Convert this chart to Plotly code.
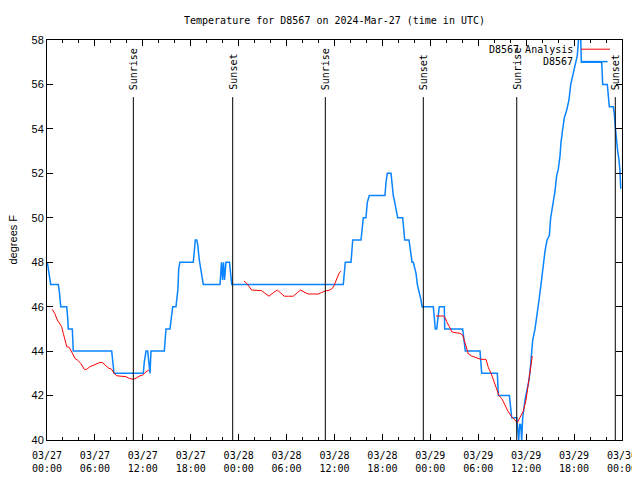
import pandas as pd
import plotly.graph_objects as go

BASE = pd.Timestamp("2024-03-27 00:00")

# D8567 observations: hours since 03/27 00:00 UTC, degrees F
obs_hours = [0.04, 0.29, 0.46, 1.41, 1.54, 1.72, 2.47, 2.59, 2.67, 3.17, 3.29, 8.10, 8.23, 8.39,
             12.06, 12.18, 12.40, 12.61, 12.90, 13.02, 14.69, 14.81, 14.90, 15.40, 15.61, 15.74,
             16.15, 16.28, 16.40, 16.49, 16.65, 18.32, 18.45, 18.57, 18.75, 18.87, 19.07, 19.28,
             19.57, 21.66, 21.85, 21.98, 22.10, 22.23, 22.41, 22.85, 22.98, 23.13, 37.10, 37.23,
             37.35, 38.07, 38.19, 38.28, 39.32, 39.44, 39.61, 39.94, 40.11, 40.36, 42.32, 42.45,
             42.61, 43.08, 43.20, 43.36, 43.49, 43.79, 43.91, 44.54, 44.67, 44.79, 45.33, 45.45,
             45.58, 45.71, 45.87, 46.00, 46.21, 46.37, 46.50, 46.71, 46.83, 46.96, 48.37, 48.50,
             48.62, 48.80, 48.92, 49.12, 49.75, 49.80, 52.05, 52.22, 52.38, 54.22, 54.35, 54.43,
             56.39, 56.52, 57.90, 58.03, 58.19, 58.82, 59.07, 59.19, 59.32, 59.44, 59.57, 59.85,
             60.10, 60.36, 60.54, 60.67, 60.73, 60.82, 61.11, 61.36, 61.61, 61.86, 62.11, 62.36,
             62.61, 62.90, 63.07, 63.27, 63.40, 63.61, 63.82, 64.03, 64.24, 64.36, 64.58, 64.78,
             65.08, 65.36, 65.58, 65.83, 66.12, 66.40, 66.55, 66.65, 66.80, 66.91, 69.46, 69.58,
             70.16, 70.28, 70.41, 70.91, 71.03, 71.16, 71.31, 71.46, 71.62, 71.75, 71.84]
obs_temps = [48.0, 47.3, 47.0, 47.0, 46.7, 46.0, 46.0, 45.5, 45.0, 45.0, 44.0, 44.0, 43.5, 43.0,
             43.0, 43.5, 44.0, 44.0, 43.0, 44.0, 44.0, 44.7, 45.0, 45.0, 45.5, 46.0,
             46.0, 46.3, 46.8, 47.7, 48.0, 48.0, 48.8, 49.0, 49.0, 48.8, 48.1, 47.7,
             47.0, 47.0, 48.0, 47.2, 48.0, 47.2, 48.0, 48.0, 47.4, 47.0, 47.0, 47.6,
             48.0, 48.0, 48.6, 49.0, 49.0, 49.5, 50.0, 50.0, 50.7, 51.0, 51.0, 51.6,
             52.0, 52.0, 51.5, 51.0, 50.8, 50.3, 50.0, 50.0, 49.6, 49.0, 49.0, 48.6,
             48.25, 48.0, 48.0, 47.8, 47.5, 47.0, 46.8, 46.6, 46.3, 46.0, 46.0, 45.5,
             45.0, 45.0, 45.5, 46.0, 46.0, 45.0, 45.0, 44.5, 44.0, 44.0, 43.4, 43.0,
             43.0, 42.0, 42.0, 41.5, 41.0, 41.0, 40.0, 40.7, 40.7, 40.0, 41.0, 41.8,
             42.3, 42.7, 43.3, 43.8, 44.0, 44.5, 45.0, 45.8, 46.3, 47.0, 47.9, 48.5,
             49.0, 49.2, 50.0, 50.4, 50.7, 51.2, 51.9, 52.2, 52.8, 53.4, 54.0, 54.5,
             54.85, 55.3, 56.0, 56.4, 56.9, 57.3, 58.0, 58.5, 58.5, 57.0, 57.0, 56.0,
             56.0, 55.3, 55.0, 55.0, 54.7, 54.1, 53.3, 53.0, 52.6, 52.1, 51.3]

# D8567 Analysis (None = gap)
ana_hours = [0.66, 1.00, 1.29, 1.63, 1.84, 2.04, 2.25, 2.47, 2.79, 3.09, 3.51, 3.79, 4.22, 4.67,
             4.97, 5.38, 5.80, 6.22, 6.64, 6.97, 7.26, 7.68, 8.10, 8.39, 8.73, 9.35, 9.89, 10.31,
             10.81, 11.23, 11.65, 11.98, 12.40, 12.77, 18.0,
             24.67, 25.01, 25.63, 26.26, 26.88, 27.30, 27.80, 28.34, 28.84, 29.18, 29.71, 30.22,
             30.84, 31.34, 31.77, 32.18, 32.72, 33.35, 33.97, 34.40, 34.81, 35.44, 35.85, 36.06,
             36.28, 36.56, 36.81, 42.0,
             48.71, 49.62, 49.84, 50.05, 50.38, 50.68, 51.09, 51.72, 52.05, 52.22, 52.43, 52.76,
             53.18, 53.81, 54.31, 54.97, 55.26, 55.69, 56.10, 56.60, 56.94, 57.35, 57.76, 58.19,
             58.60, 58.89, 59.23, 59.64, 59.98, 60.19, 60.39, 60.61, 60.77]
ana_temps = [45.88, 45.67, 45.4, 45.17, 45.1, 44.8, 44.5, 44.2, 44.17, 43.97, 43.67, 43.6, 43.45, 43.18,
             43.18, 43.3, 43.36, 43.42, 43.49, 43.48, 43.37, 43.24, 43.18, 43.0, 42.89, 42.88, 42.85, 42.77,
             42.73, 42.8, 42.89, 42.92, 43.07, 43.15, None,
             47.15, 47.05, 46.75, 46.72, 46.72, 46.6, 46.47, 46.63, 46.75, 46.64, 46.47, 46.47,
             46.47, 46.63, 46.75, 46.66, 46.57, 46.57, 46.57, 46.64, 46.7, 46.75, 46.87, 47.05,
             47.27, 47.5, 47.6, None,
             45.58, 45.58, 45.52, 45.32, 45.1, 44.87, 44.83, 44.8, 44.72, 44.5, 44.2, 43.87,
             43.78, 43.69, 43.63, 43.63, 43.27, 42.92, 42.47, 41.99, 41.87, 41.57, 41.27, 41.05,
             40.9, 40.78, 41.02, 41.3, 41.8, 42.32, 42.92, 43.45, 43.78]

sun_hours = [10.81, 23.25, 34.85, 47.12, 58.82, 71.16]
sun_labels = ["Sunrise", "Sunset", "Sunrise", "Sunset", "Sunrise", "Sunset"]

tick_hours = list(range(0, 73, 6))
tick_text = ["03/27<br>00:00", "03/27<br>06:00", "03/27<br>12:00", "03/27<br>18:00",
             "03/28<br>00:00", "03/28<br>06:00", "03/28<br>12:00", "03/28<br>18:00",
             "03/29<br>00:00", "03/29<br>06:00", "03/29<br>12:00", "03/29<br>18:00",
             "03/30<br>00:00"]
y_ticks = list(range(40, 59, 2))


def to_time(hours):
    return [None if h is None else BASE + pd.Timedelta(hours=h) for h in hours]


MONO = "DejaVu Sans Mono"
SANS = "Liberation Sans"
BLUE = "#0a84ff"
RED = "#ff0000"

fig = go.Figure()
fig.add_trace(go.Scatter(x=to_time(obs_hours), y=obs_temps, mode="lines",
                         line=dict(color=BLUE, width=1.5), name="D8567", showlegend=False))
fig.add_trace(go.Scatter(x=to_time(ana_hours), y=ana_temps, mode="lines", connectgaps=False,
                         line=dict(color=RED, width=1), name="D8567 Analysis", showlegend=False))

for h, lab in zip(sun_hours, sun_labels):
    t = BASE + pd.Timedelta(hours=h)
    fig.add_shape(type="line", xref="x", yref="y", x0=t, x1=t, y0=40, y1=55.43,
                  line=dict(color="black", width=1))
    fig.add_annotation(x=t, y=55.66, xref="x", yref="y", text=lab, textangle=-90,
                       showarrow=False, xanchor="center", yanchor="bottom",
                       font=dict(family=MONO, size=10, color="black"))

# gnuplot-style legend (text left, sample right)
fig.add_annotation(x=0.918, y=0.977, xref="paper", yref="paper", text="D8567 Analysis",
                   showarrow=False, xanchor="right", yanchor="middle",
                   font=dict(family=MONO, size=10, color="black"))
fig.add_annotation(x=0.918, y=0.946, xref="paper", yref="paper", text="D8567",
                   showarrow=False, xanchor="right", yanchor="middle",
                   font=dict(family=MONO, size=10, color="black"))
fig.add_shape(type="line", xref="paper", yref="paper", x0=0.9287, x1=0.979, y0=0.977, y1=0.977,
              line=dict(color=RED, width=1))
fig.add_shape(type="line", xref="paper", yref="paper", x0=0.9287, x1=0.975, y0=0.946, y1=0.946,
              line=dict(color=BLUE, width=1.5))

fig.add_annotation(x=-0.06, y=0.5, xref="paper", yref="paper", text="degrees F",
                   textangle=-90, showarrow=False, xanchor="center", yanchor="middle",
                   font=dict(family=SANS, size=11, color="black"))

fig.update_layout(
    width=640, height=480,
    margin=dict(l=39, r=26, t=32, b=48, autoexpand=False),
    paper_bgcolor="white", plot_bgcolor="white",
    title=dict(text="Temperature for D8567 on 2024-Mar-27 (time in UTC)", x=0.5, xref="paper",
               xanchor="center", y=1 - 12 / 480, yanchor="middle",
               font=dict(family=MONO, size=10, color="black")),
    showlegend=False,
)
fig.update_xaxes(
    type="date", range=[BASE, BASE + pd.Timedelta(hours=72)],
    tickmode="array", tickvals=to_time(tick_hours), ticktext=tick_text,
    ticks="inside", ticklen=6, tickcolor="black", tickwidth=1,
    minor=dict(tickmode="linear", tick0=BASE, dtick=2 * 3600 * 1000, ticks="inside",
               ticklen=3, tickcolor="black", showgrid=False),
    showline=True, linecolor="black", linewidth=1, mirror="ticks",
    showgrid=False, zeroline=False, automargin=False, ticklabelstandoff=6,
    tickfont=dict(family=MONO, size=10, color="black"),
)
fig.update_yaxes(
    range=[40, 58], tickmode="array", tickvals=y_ticks,
    ticks="inside", ticklen=6, tickcolor="black", tickwidth=1,
    showline=True, linecolor="black", linewidth=1, mirror="ticks",
    showgrid=False, zeroline=False, automargin=False,
    tickfont=dict(family=SANS, size=11, color="black"),
)

fig.write_html("out.html")
